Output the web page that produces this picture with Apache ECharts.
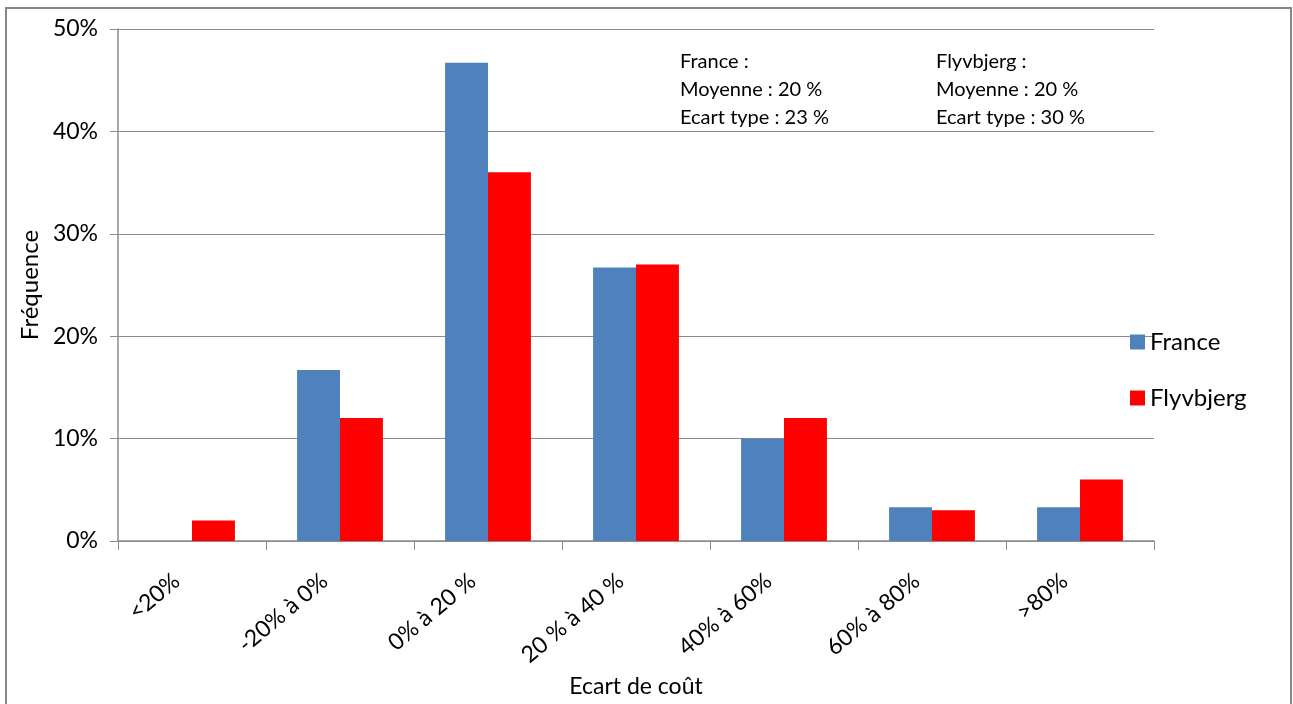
<!DOCTYPE html>
<html>
<head>
<meta charset="utf-8">
<script src="https://cdn.jsdelivr.net/npm/echarts@6/dist/echarts.min.js"></script>
<style>
  html, body { margin: 0; padding: 0; background: #fff; overflow: hidden; }
  #chart { width: 1293px; height: 704px; }
</style>
</head>
<body>
<div id="chart"></div>
<script>
// Cost-overrun classes (x axis)
const categories = ['<20%', '-20% à 0%', '0% à 20 %', '20 % à 40 %', '40% à 60%', '60% à 80%', '>80%'];
// Frequency per class, in percent
const franceValues = [0, 16.7, 46.7, 26.7, 10, 3.3, 3.3];
const flyvbjergValues = [2, 12, 36, 27, 12, 3, 6];
// Summary statistics shown in the upper right
const franceStats = ['France :', 'Moyenne : 20 %', 'Ecart type : 23 %'];
const flyvbjergStats = ['Flyvbjerg :', 'Moyenne : 20 %', 'Ecart type : 30 %'];

const FONT = 'Lato, "Open Sans", sans-serif';
const chart = echarts.init(document.getElementById('chart'), null, { renderer: 'canvas', width: 1293, height: 704 });

function statsText(lines, left) {
  return lines.map((t, i) => ({
    type: 'text',
    left: left,
    top: 52 + i * 28,
    style: { text: t, fill: '#000', font: '20px ' + FONT }
  }));
}

chart.setOption({
  animation: false,
  backgroundColor: '#fff',
  textStyle: { fontFamily: FONT },
  grid: { left: 118, width: 1036, top: 29, height: 512, containLabel: false, outerBoundsMode: 'none' },
  legend: {
    orient: 'vertical',
    left: 1125,
    top: 325,
    itemWidth: 15,
    itemHeight: 15,
    itemGap: 32,
    icon: 'rect',
    textStyle: { fontSize: 24, color: '#000', fontFamily: FONT },
    data: ['France', 'Flyvbjerg']
  },
  xAxis: {
    type: 'category',
    data: categories,
    name: 'Ecart de coût',
    nameLocation: 'middle',
    nameGap: 134,
    nameMoveOverlap: false,
    nameTextStyle: { fontSize: 23, color: '#000', fontFamily: FONT },
    axisLine: { lineStyle: { color: '#8c8c8c', width: 1.5 } },
    axisTick: { show: true, length: 9, alignWithLabel: false, lineStyle: { color: '#8c8c8c' } },
    axisLabel: { rotate: 40, margin: 24, padding: [0, 20, 0, 0], fontSize: 23, color: '#000', fontFamily: FONT, interval: 0 }
  },
  yAxis: {
    type: 'value',
    min: 0,
    max: 50,
    interval: 10,
    name: 'Fréquence',
    nameLocation: 'middle',
    nameGap: 74,
    nameTextStyle: { fontSize: 24, color: '#000', fontFamily: FONT },
    axisLine: { show: true, lineStyle: { color: '#8c8c8c', width: 1.5 } },
    axisTick: { show: true, length: 8, lineStyle: { color: '#8c8c8c' } },
    axisLabel: { formatter: '{value}%', fontSize: 23, color: '#000', margin: 20, fontFamily: FONT },
    splitLine: { show: true, lineStyle: { color: '#8c8c8c', width: 1 } }
  },
  series: [
    {
      name: 'France',
      type: 'bar',
      data: franceValues,
      itemStyle: { color: '#4f81bd' },
      barGap: '0%',
      barCategoryGap: '42%'
    },
    {
      name: 'Flyvbjerg',
      type: 'bar',
      data: flyvbjergValues,
      itemStyle: { color: '#ff0000' },
      barGap: '0%',
      barCategoryGap: '42%'
    }
  ],
  graphic: [
    {
      type: 'rect',
      shape: { x: 6, y: 8, width: 1285, height: 710 },
      style: { fill: 'none', stroke: '#868686', lineWidth: 2 },
      silent: true
    },
    ...statsText(franceStats, 680),
    ...statsText(flyvbjergStats, 936)
  ]
});
</script>
</body>
</html>
